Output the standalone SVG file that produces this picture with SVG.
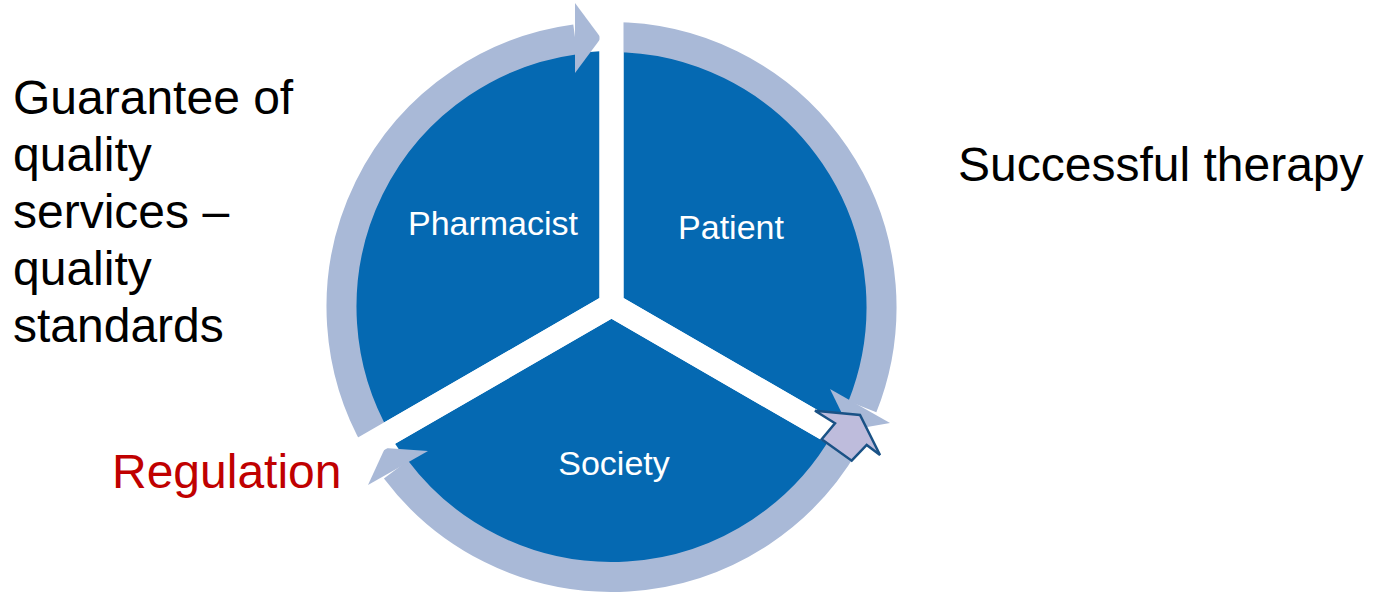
<svg xmlns="http://www.w3.org/2000/svg" width="1375" height="594" viewBox="0 0 1375 594">
<style>
.sector{fill:#0569B2}
.label{font-family:"Liberation Sans",Arial,sans-serif;font-size:34px;fill:#ffffff;text-anchor:middle}
.band{fill:none;stroke:#A9B9D7;stroke-width:30;stroke-linecap:butt}
.head{fill:#A9B9D7}
.big{font-family:"Liberation Sans",Arial,sans-serif;font-size:48px;fill:#000000}
</style>
<rect width="1375" height="594" fill="#ffffff"/>
<g id="node-pharmacist">
<path class="sector" d="M 599.5 298.07 L 599.5 51.28 A 256 256 0 0 0 383.3 422.9 Z"/>
<text class="label" x="493" y="235">Pharmacist</text>
</g>
<g id="node-patient">
<path class="sector" d="M 623.5 298.07 L 623.5 51.28 A 256 256 0 0 1 839.7 422.9 Z"/>
<text class="label" x="731" y="239">Patient</text>
</g>
<g id="node-society">
<path class="sector" d="M 611.5 318.86 L 827.9 443.8 A 256 256 0 0 1 395.1 443.8 Z"/>
<text class="label" x="614" y="475">Society</text>
</g>
<g id="connectors">
<g id="arc-pharmacist-patient">
<path class="band" d="M 377.7 442 A 270 270 0 0 1 575.3 39.4"/>
<polygon class="head" points="575,3 601,38 575,73"/>
</g>
<g id="arc-patient-society">
<path class="band" d="M 611.5 37 A 270 270 0 0 1 862.4 406.8"/>
<polygon class="head" points="830,389 890,423 850,430"/>
</g>
<g id="arc-society-pharmacist">
<path class="band" d="M 845.3 442 A 270 270 0 0 1 395.9 469.5"/>
<polygon class="head" points="428,451 368,485 385,448"/>
</g>
<polygon id="gaps" fill="#ffffff" points="599.5,-5 623.5,-5 623.5,298.07 900.6,458.07 888.6,478.86 611.5,318.86 334.4,478.86 322.4,458.07 599.5,298.07"/>
<polygon id="outcome-arrow" fill="#BEBCDC" stroke="#1A5286" stroke-width="2.5" stroke-linejoin="miter" points="815,410.7 860,415 880,455 866.7,445 851.7,460.7 821.7,439.3 835,423.3"/>
</g>
<g id="text-left">
<text class="big" x="13" y="114">Guarantee of</text>
<text class="big" x="13" y="171">quality</text>
<text class="big" x="13" y="228">services –</text>
<text class="big" x="13" y="285">quality</text>
<text class="big" x="13" y="342">standards</text>
</g>
<text id="text-right" class="big" x="958" y="181">Successful therapy</text>
<text id="text-regulation" class="big" x="112" y="488" fill="#C00000" style="fill:#C00000">Regulation</text>
</svg>
